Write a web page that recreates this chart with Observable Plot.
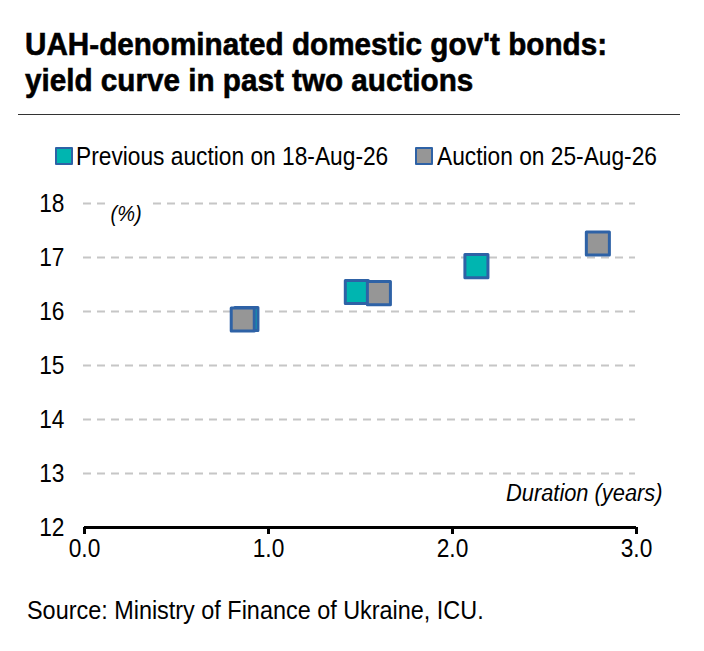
<!DOCTYPE html>
<html>
<head>
<meta charset="utf-8">
<script src="https://cdn.jsdelivr.net/npm/d3@7"></script>
<script src="https://cdn.jsdelivr.net/npm/@observablehq/plot@0.6"></script>
<style>
  body { margin: 0; background: #fff; width: 704px; height: 651px; position: relative; overflow: hidden;
         font-family: "Liberation Sans", Arial, sans-serif; color: #000; }
  .fit { position: absolute; white-space: nowrap; transform-origin: 0 50%; display: inline-block; }
  #t1, #t2 { font-weight: bold; font-size: 32px; line-height: 36px; -webkit-text-stroke: 0.6px #000; }
  #t1 { left: 25px; top: 26px; }
  #t2 { left: 25px; top: 62px; }
  #rule { position: absolute; left: 18px; top: 114px; width: 662px; border-top: 1.5px solid #333; }
  .leg { font-size: 25px; line-height: 30px; top: 141px; }
  .sw { position: absolute; top: 147px; width: 14px; height: 14px; border: 2px solid #2e62a6; border-radius: 1px; }
  #chart { position: absolute; left: 0; top: 180px; }
  #caption { left: 27px; top: 595px; font-size: 25px; line-height: 30px; }
</style>
</head>
<body>
<div id="t1" class="fit">UAH-denominated domestic gov't bonds:</div>
<div id="t2" class="fit">yield curve in past two auctions</div>
<div id="rule"></div>
<div id="sw0" class="sw" style="left:55px"></div>
<div id="leg0" class="fit leg" style="left:76px"></div>
<div id="sw1" class="sw" style="left:415px"></div>
<div id="leg1" class="fit leg" style="left:437px"></div>
<div id="chart"></div>
<div id="caption" class="fit">Source: Ministry of Finance of Ukraine, ICU.</div>
<script>
const seriesNames = ["Previous auction on 18-Aug-26", "Auction on 25-Aug-26"];
const seriesColors = ["#00b5b0", "#969696"];
const prevDuration = [0.88, 1.48, 2.13];
const prevYield = [15.86, 16.36, 16.84];
const currDuration = [0.86, 1.60, 2.79];
const currYield = [15.85, 16.34, 17.26];
const xTicks = [0, 1, 2, 3];
const yTicks = [12, 13, 14, 15, 16, 17, 18];
const yLabel = "(%)";
const xLabel = "Duration (years)";

const prev = prevDuration.map((d, i) => ({x: d, y: prevYield[i]}));
const curr = currDuration.map((d, i) => ({x: d, y: currYield[i]}));

// legend
seriesNames.forEach((name, i) => {
  document.getElementById("leg" + i).textContent = name;
  document.getElementById("sw" + i).style.background = seriesColors[i];
});

// horizontal condensation to mimic a narrow typeface
function fitWidth(el, target) {
  const k = target / el.offsetWidth;
  el.style.transform = `scaleX(${k})`;
  return k;
}
const kb = fitWidth(document.getElementById("t1"), 582);
document.getElementById("t2").style.transform = `scaleX(${kb})`;
const k = fitWidth(document.getElementById("leg0"), 312);
document.getElementById("leg1").style.transform = `scaleX(${k})`;
fitWidth(document.getElementById("caption"), 457);

const chart = Plot.plot({
  width: 704,
  height: 390,
  marginLeft: 84,
  marginRight: 68,
  marginTop: 23,
  marginBottom: 43,
  style: {fontFamily: "'Liberation Sans', Arial, sans-serif", fontSize: "25px", color: "#000", background: "transparent", overflow: "visible"},
  x: {domain: [0, 3]},
  y: {domain: [12, 18]},
  marks: [
    Plot.ruleY(yTicks.filter(t => t > 12), {x1: 0, x2: 3, dx: -1, stroke: "#c6c6c6", strokeWidth: 2, strokeDasharray: "8,6"}),
    Plot.axisY(yTicks, {tickSize: 0, tickPadding: 20, label: null, fontSize: 25, tickFormat: d => String(d)}),
    Plot.axisX(xTicks, {tickSize: 7, strokeWidth: 3, tickPadding: 5, label: null, fontSize: 25, tickFormat: d3.format(".1f")}),
    Plot.ruleY([12], {x1: 0, x2: 3, stroke: "#000", strokeWidth: 3}),
    Plot.text([yLabel], {frameAnchor: "top-left", dx: 26, dy: 2, fontStyle: "italic", fontSize: 22, fill: "#000", stroke: "#fff", strokeWidth: 20}),
    Plot.text([xLabel], {frameAnchor: "bottom-right", dx: 26, dy: -27, textAnchor: "end", fontStyle: "italic", fontSize: 24, fill: "#000"}),
    Plot.dot(prev, {x: "x", y: "y", symbol: "square", r: 13, fill: seriesColors[0], stroke: "#2e62a6", strokeWidth: 3, strokeLinejoin: "round"}),
    Plot.dot(curr, {x: "x", y: "y", symbol: "square", r: 13, fill: seriesColors[1], stroke: "#2e62a6", strokeWidth: 3, strokeLinejoin: "round"})
  ]
});
document.getElementById("chart").appendChild(chart);

// condense SVG text around its anchor point
chart.querySelectorAll("text").forEach(t => {
  const b = t.getBBox();
  const anchor = getComputedStyle(t).textAnchor;
  const ax = anchor === "end" ? b.x + b.width : anchor === "middle" ? b.x + b.width / 2 : b.x;
  const prevT = t.getAttribute("transform") || "";
  t.setAttribute("transform", `${prevT} translate(${ax},0) scale(${k},1) translate(${-ax},0)`);
});
</script>
</body>
</html>
